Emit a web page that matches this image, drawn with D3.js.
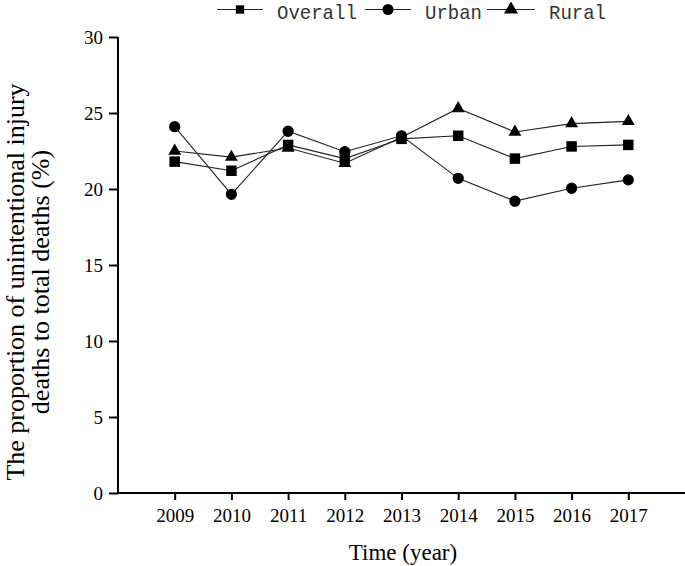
<!DOCTYPE html>
<html><head><meta charset="utf-8">
<script src="https://cdn.jsdelivr.net/npm/d3@7"></script>
<style>html,body{margin:0;padding:0;background:#fff;}svg{display:block;}</style>
</head><body>
<script>
const years = [2009, 2010, 2011, 2012, 2013, 2014, 2015, 2016, 2017];
const overall = [21.8, 21.2, 22.9, 22.0, 23.3, 23.5, 22.0, 22.8, 22.9];
const urban = [24.1, 19.65, 23.8, 22.45, 23.5, 20.7, 19.2, 20.05, 20.6];
const rural = [22.5, 22.1, 22.7, 21.7, 23.4, 25.3, 23.75, 24.3, 24.45];
const seriesNames = ["Overall", "Urban", "Rural"];
const yTicks = [0, 5, 10, 15, 20, 25, 30];

const W = 685, H = 566;
const svg = d3.select("body").append("svg").attr("width", W).attr("height", H);

const x = d3.scaleLinear().domain([2008, 2018]).range([118, 685]);
const y = d3.scaleLinear().domain([0, 30]).range([493, 37]);

const serif = "'Liberation Serif','Times New Roman',serif";

// Y axis
const yAxis = svg.append("g").attr("transform", "translate(118,0)")
  .call(d3.axisLeft(y).tickValues(yTicks).tickSize(9).tickPadding(6).tickFormat(d3.format("d")));
yAxis.select(".domain").attr("stroke", "#000").attr("stroke-width", 2).attr("d", `M0,${y(30)}V${y(0)}`);
yAxis.selectAll(".tick line").attr("stroke", "#000").attr("stroke-width", 2);
yAxis.selectAll(".tick text").attr("font-family", serif).attr("font-size", 19).attr("fill", "#000");

// X axis
const xAxis = svg.append("g").attr("transform", `translate(0,${y(0)})`)
  .call(d3.axisBottom(x).tickValues(years).tickSize(7).tickPadding(9).tickFormat(d3.format("d")));
xAxis.select(".domain").attr("stroke", "#000").attr("stroke-width", 2).attr("d", `M118,0H685`);
xAxis.selectAll(".tick line").attr("stroke", "#000").attr("stroke-width", 2);
xAxis.selectAll(".tick text").attr("font-family", serif).attr("font-size", 19).attr("fill", "#000");

// Axis titles
svg.append("text").attr("x", 403).attr("y", 560).attr("text-anchor", "middle")
  .attr("font-family", serif).attr("font-size", 23).text("Time (year)");
const yt = svg.append("text").attr("transform", "translate(23.5,282) rotate(-90)")
  .attr("text-anchor", "middle").attr("font-family", serif).attr("font-size", 26);
yt.append("tspan").attr("x", 0).attr("y", 0).text("The proportion of unintentional injury");
yt.append("tspan").attr("x", 0).attr("y", 25).text("deaths to total deaths (%)");

// Series
const symbols = [d3.symbolSquare, d3.symbolCircle, d3.symbolTriangle];
const sizes = [110, 100, 72];
const data = [overall, urban, rural];
const line = d3.line().x((d, i) => x(years[i])).y(d => y(d));

data.forEach((vals, si) => {
  svg.append("path").datum(vals).attr("d", line)
    .attr("fill", "none").attr("stroke", "#222").attr("stroke-width", 1.1);
});
data.forEach((vals, si) => {
  svg.append("g").selectAll("path").data(vals).join("path")
    .attr("transform", (d, i) => `translate(${x(years[i])},${y(d)})`)
    .attr("d", d3.symbol().type(symbols[si]).size(sizes[si]))
    .attr("fill", "#000");
});

// Legend
const legItems = [
  {x0: 217, x1: 263, mx: 240, tx: 277},
  {x0: 365, x1: 411, mx: 388, tx: 425},
  {x0: 487, x1: 535, mx: 511, tx: 549}
];
const legSizes = [70, 95, 85];
const ly = 9.5;
legItems.forEach((it, i) => {
  svg.append("line").attr("x1", it.x0).attr("x2", it.x1).attr("y1", ly).attr("y2", ly)
    .attr("stroke", "#222").attr("stroke-width", 1.1);
  svg.append("path").attr("transform", `translate(${it.mx},${ly})`)
    .attr("d", d3.symbol().type(symbols[i]).size(legSizes[i])).attr("fill", "#000");
  svg.append("text").attr("transform", `translate(${it.tx},18.5) scale(1,1.1)`)
    .attr("font-family", "'Liberation Mono','DejaVu Sans Mono',monospace")
    .attr("font-size", 19).attr("fill", "#333").text(seriesNames[i]);
});
</script>
</body></html>
